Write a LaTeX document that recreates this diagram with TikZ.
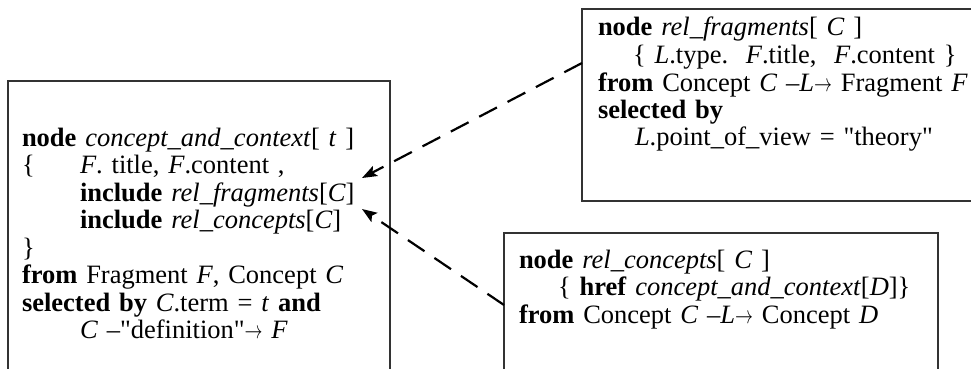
\documentclass[tikz,border=0pt]{standalone}
\usepackage{graphicx}
\usepackage{fontspec}
\setmainfont{Liberation Serif}[Ligatures=TeXOff]
\usetikzlibrary{arrows.meta}

\newcommand{\linkto}{\scalebox{0.72}[1]{$\rightarrow$}}

\tikzset{
  qbox/.style={draw=black!80, line width=1.2pt, anchor=north west, align=left,
    inner ysep=0pt, outer sep=0pt, font=\fontsize{26.5}{27.5}\selectfont},
  dasharrow/.style={line width=2.2pt, dash pattern=on 20pt off 12pt,
    -{Stealth[length=15pt,width=11pt,inset=3pt]}},
}

\begin{document}
\begin{tikzpicture}[x=1pt,y=1pt]
    \useasboundingbox (0,0) rectangle (971,-369);
    \clip (0,0) rectangle (971,-369);
    % query boxes
    \node[qbox, inner xsep=14pt, text width=354pt, text height=65pt, text depth=254pt] (cctx) at (8,-81)
        {\textbf{node} \textit{concept\_and\_context}[ \textit{t} ]\\
         \makebox[58pt][l]{\{}\textit{F}. title, \textit{F}.content ,\\
         \hspace*{58pt}\textbf{include} \textit{rel\_fragments}[\textit{C}]\\
         \hspace*{58pt}\textbf{include} \textit{rel\_concepts}[\textit{C}]\\
         \}\\
         \textbf{from} Fragment \textit{F}, Concept \textit{C}\\
         \textbf{selected by} \textit{C}.term = \textit{t} \textbf{and}\\
         \hspace*{58pt}\textit{C} –"definition"\linkto\ \textit{F}};
    \node[qbox, inner xsep=16pt, text width=386pt, text height=27pt, text depth=165pt] (rfrag) at (582,-9)
        {\textbf{node} \textit{rel\_fragments}[ \textit{C} ]\\
         \hspace*{35pt}\{ \textit{L}.type.\ \ \textit{F}.title,\ \ \textit{F}.content \}\\
         \textbf{from} Concept \textit{C} –\textit{L}\linkto\ Fragment \textit{F}\\
         \textbf{selected by}\\
         \hspace*{37pt}\textit{L}.point\_of\_view = "theory"};
    \node[qbox, inner xsep=15pt, text width=404pt, text height=35pt, text depth=132pt] (rconc) at (504,-233)
        {\textbf{node} \textit{rel\_concepts}[ \textit{C} ]\\
         \hspace*{39pt}\{ \textbf{href} \textit{concept\_and\_context}[\textit{D}]\}\\
         \textbf{from} Concept \textit{C} –\textit{L}\linkto\ Concept \textit{D}};
    % targets of the includes
    \coordinate (fragref) at (362,-178);
    \coordinate (concref) at (362,-209);
    \draw[dasharrow] ([yshift=-54pt]rfrag.north west) -- (fragref);
    \draw[dasharrow] ([yshift=-72pt]rconc.north west) -- (concref);
\end{tikzpicture}
\end{document}
